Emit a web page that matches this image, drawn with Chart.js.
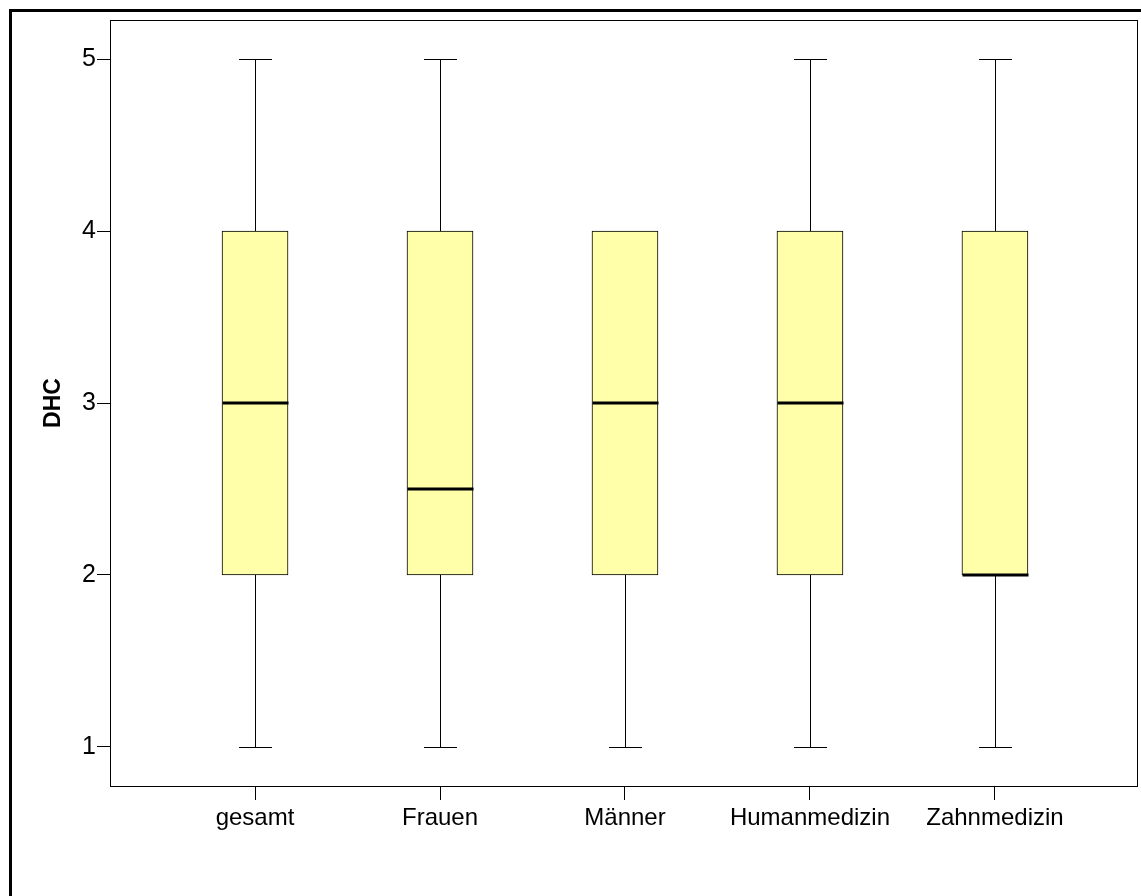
<!DOCTYPE html>
<html>
<head>
<meta charset="utf-8">
<script src="https://cdn.jsdelivr.net/npm/chart.js@4/dist/chart.umd.min.js"></script>
<style>
    body { margin: 0; background: #fff; overflow: hidden; }
    #frame { position: absolute; left: 9px; top: 9px; width: 1300px; height: 1100px; border: 3px solid #000; }
    #chart { position: absolute; left: 0; top: 0; }
</style>
</head>
<body>
<div id="frame"></div>
<canvas id="chart" width="1141" height="896"></canvas>
<script>
const categories = ['gesamt', 'Frauen', 'Männer', 'Humanmedizin', 'Zahnmedizin'];
const minValues = [1, 1, 1, 1, 1];
const q1Values = [2, 2, 2, 2, 2];
const medianValues = [3, 2.5, 3, 3, 2];
const q3Values = [4, 4, 4, 4, 4];
const maxValues = [5, 5, 4, 5, 5];
const yTicks = [1, 2, 3, 4, 5];

const fontFamily = "'Liberation Sans', Arial, sans-serif";

// whiskers, caps and medians drawn on top of the boxes
const boxExtras = {
    id: 'boxExtras',
    afterDatasetsDraw(chart) {
        const { ctx, scales: { x, y } } = chart;
        ctx.save();
        ctx.strokeStyle = '#000';
        categories.forEach((cat, i) => {
            const cx = Math.round(x.getPixelForValue(i + 1)) + 0.5;
            const capHalf = 16.5;
            const yMin = Math.round(y.getPixelForValue(minValues[i])) + 0.5;
            const yMax = Math.round(y.getPixelForValue(maxValues[i])) + 0.5;
            const yQ1 = y.getPixelForValue(q1Values[i]);
            const yQ3 = y.getPixelForValue(q3Values[i]);
            ctx.lineWidth = 1;
            ctx.beginPath();
            if (maxValues[i] > q3Values[i]) {
                ctx.moveTo(cx, yQ3);
                ctx.lineTo(cx, yMax);
                ctx.moveTo(cx - capHalf, yMax);
                ctx.lineTo(cx + capHalf, yMax);
            }
            if (minValues[i] < q1Values[i]) {
                ctx.moveTo(cx, yQ1);
                ctx.lineTo(cx, yMin);
                ctx.moveTo(cx - capHalf, yMin);
                ctx.lineTo(cx + capHalf, yMin);
            }
            ctx.stroke();

            // median
            const yMed = Math.round(y.getPixelForValue(medianValues[i]));
            ctx.lineWidth = 3;
            ctx.beginPath();
            ctx.moveTo(cx - 33, yMed);
            ctx.lineTo(cx + 33, yMed);
            ctx.stroke();
        });
        ctx.restore();
    },
    afterDraw(chart) {
        const { ctx, chartArea } = chart;
        ctx.save();
        ctx.strokeStyle = '#000';
        ctx.lineWidth = 1;
        ctx.strokeRect(chartArea.left + 0.5, chartArea.top + 0.5,
            chartArea.right - chartArea.left, chartArea.bottom - chartArea.top);
        ctx.restore();
    }
};

const config = {
    type: 'bar',
    data: {
        datasets: [{
            data: categories.map((c, i) => ({ x: i + 1, y: [q1Values[i], q3Values[i]] })),
            backgroundColor: '#ffffaa',
            borderColor: '#000',
            borderWidth: 1,
            borderSkipped: false,
            barThickness: 66
        }]
    },
    options: {
        responsive: false,
        animation: false,
        layout: {
            padding: { left: 0, top: 20, right: 4, bottom: 0 }
        },
        plugins: {
            legend: { display: false },
            tooltip: { enabled: false }
        },
        scales: {
            x: {
                type: 'linear',
                offset: false,
                min: 0.216,
                max: 5.768,
                afterBuildTicks: scale => {
                    scale.ticks = categories.map((c, i) => ({ value: i + 1 }));
                },
                afterFit: scale => { scale.height = 110; },
                border: { display: false },
                grid: {
                    offset: false,
                    drawOnChartArea: false,
                    drawTicks: true,
                    tickLength: 14,
                    color: '#000',
                    tickWidth: 1
                },
                ticks: {
                    callback: value => categories[value - 1],
                    color: '#000',
                    padding: 4,
                    maxRotation: 0,
                    autoSkip: false,
                    font: { family: fontFamily, size: 24 }
                }
            },
            y: {
                min: 0.773,
                max: 5.227,
                afterBuildTicks: scale => {
                    scale.ticks = yTicks.map(v => ({ value: v }));
                },
                afterFit: scale => { scale.width = 110; },
                border: { display: false },
                grid: {
                    drawOnChartArea: false,
                    drawTicks: true,
                    tickLength: 13,
                    color: '#000',
                    tickWidth: 1
                },
                ticks: {
                    color: '#000',
                    padding: 1,
                    font: { family: fontFamily, size: 25 }
                },
                title: {
                    display: true,
                    text: 'DHC',
                    color: '#000',
                    padding: { top: 40, bottom: 0 },
                    font: { family: fontFamily, size: 23, weight: 'bold' }
                }
            }
        }
    },
    plugins: [boxExtras]
};

const ctx = document.getElementById('chart').getContext('2d');
const chart = new Chart(ctx, config);
</script>
</body>
</html>
